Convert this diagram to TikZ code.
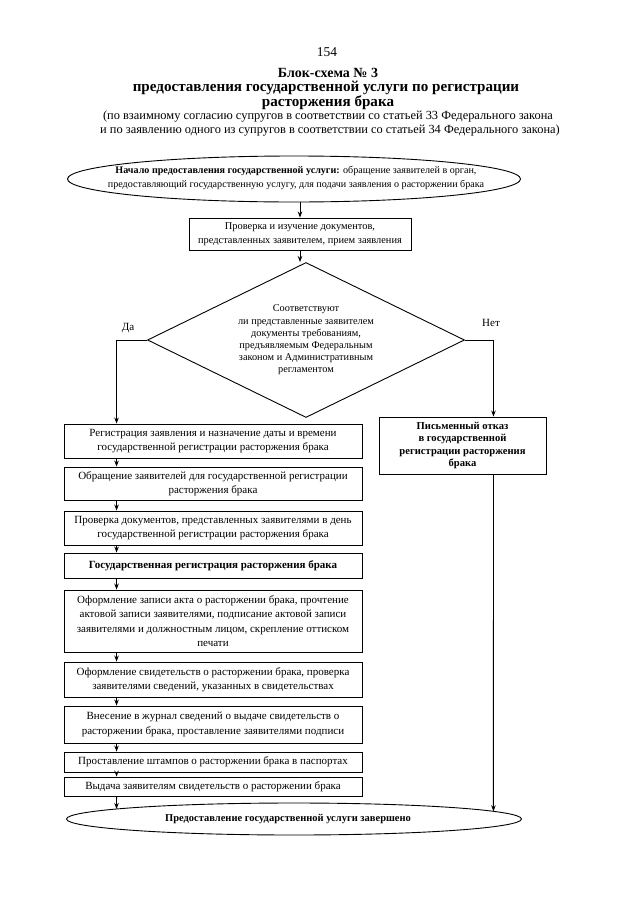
\documentclass[tikz,border=0pt]{standalone}
\usepackage{fontspec}
\setmainfont{Liberation Serif}
\usetikzlibrary{shapes.geometric,arrows.meta,calc,intersections}
\tikzset{
  box/.style={draw, line width=0.9pt, inner sep=0pt, align=center,
    font=\fontsize{11}{14.5}\selectfont},
  lbox/.style={box, minimum width=298pt},
  arr/.style={line width=0.9pt, -{Stealth[length=6pt,width=4.5pt]}},
  hdr/.style={align=center, inner sep=0pt, font=\fontsize{15.1}{15}\selectfont\bfseries},
  sub/.style={align=center, inner sep=0pt, font=\fontsize{12.4}{14}\selectfont},
}
\begin{document}
\begin{tikzpicture}[x=1pt,y=-1pt]
\useasboundingbox[fill=white] (0,0) rectangle (640,905);

% header
\node[sub, font=\fontsize{13.5}{15}\selectfont] (pg) at (327,52) {154};
\node[hdr, font=\fontsize{14}{15}\selectfont\bfseries] (t1) at (328,73) {Блок-схема № 3};
\node[hdr] (t2) at (326,88) {предоставления государственной услуги по регистрации};
\node[hdr] (t3) at (328,103) {расторжения брака};
\node[sub] (t4) at (328,117) {(по взаимному согласию супругов в соответствии со статьей 33 Федерального закона};
\node[sub] (t5) at (330,131) {и по заявлению одного из супругов в соответствии со статьей 34 Федерального закона)};

% start
\node[ellipse, draw, line width=0.9pt, inner sep=0pt, minimum width=453pt, minimum height=46pt] (start) at (294,179) {};
\node[align=center, inner sep=0pt, font=\fontsize{10.1}{14}\selectfont] (startt) at (296,178)
  {\textbf{Начало предоставления государственной услуги:} обращение заявителей в орган,\\
   предоставляющий государственную услугу, для подачи заявления о расторжении брака};

\node[box, minimum width=222pt, minimum height=32pt, font=\fontsize{10.4}{14.5}\selectfont] (b1) at (300,234)
  {Проверка и изучение документов,\\представленных заявителем, прием заявления};

\node[diamond, draw, line width=0.9pt, inner sep=0pt, minimum width=317pt, minimum height=155pt] (dia) at (306,340) {};
\node[align=center, inner sep=0pt, font=\fontsize{10.3}{12.2}\selectfont] (diat) at (306,340)
  {Соответствуют\\ли представленные заявителем\\документы требованиям,\\предъявляемым Федеральным\\законом и Административным\\регламентом};

\node[inner sep=0pt, font=\fontsize{11}{12}\selectfont] (da) at (128,328) {Да};
\node[inner sep=0pt, font=\fontsize{11}{12}\selectfont] (net) at (491,323) {Нет};

% left column
\node[lbox, minimum height=34pt] (A) at (213,441)
  {Регистрация заявления и назначение даты и времени\\государственной регистрации расторжения брака};
\node[lbox, minimum height=33pt] (B) at (213,483.5)
  {Обращение заявителей для государственной регистрации\\расторжения брака};
\node[lbox, minimum height=34pt] (C) at (213,528)
  {Проверка документов, представленных заявителями в день\\государственной регистрации расторжения брака};
\node[lbox, minimum height=25pt, font=\fontsize{11}{14.5}\selectfont\bfseries] (D) at (213,565.5)
  {Государственная регистрация расторжения брака};
\node[lbox, minimum height=62pt] (E) at (213,621)
  {Оформление записи акта о расторжении брака, прочтение\\актовой записи заявителями, подписание актовой записи\\заявителями и должностным лицом, скрепление оттиском\\печати};
\node[lbox, minimum height=35pt] (F) at (213,679.5)
  {Оформление свидетельств о расторжении брака, проверка\\заявителями сведений, указанных в свидетельствах};
\node[lbox, minimum height=37pt] (G) at (213,724.5)
  {Внесение в журнал сведений о выдаче свидетельств о\\расторжении брака, проставление заявителями подписи};
\node[lbox, minimum height=20pt] (H) at (213,762)
  {Проставление штампов о расторжении брака в паспортах};
\node[lbox, minimum height=19pt] (I) at (213,786.5)
  {Выдача заявителям свидетельств о расторжении брака};

% right box
\node[box, minimum width=167pt, minimum height=57pt, font=\fontsize{10.6}{12.3}\selectfont\bfseries] (R) at (462.5,445.5)
  {Письменный отказ\\в государственной\\регистрации расторжения\\брака};

% end
\node[ellipse, draw, line width=0.9pt, inner sep=0pt, minimum width=455pt, minimum height=32pt] (endE) at (294,819) {};
\node[inner sep=0pt, font=\fontsize{10.5}{12}\selectfont\bfseries] (endt) at (288,819)
  {Предоставление государственной услуги завершено};
\path[name path=endpath] (endE.center) ellipse [x radius=227.5pt, y radius=16pt];

% connectors
\draw[arr] (start.south -| b1.north) -- (b1.north);
\draw[arr] (b1.south) -- (b1.south |- dia.north);
\coordinate (lx) at ($(A.north west)+(53,0)$);
\coordinate (rx) at ($(R.north east)+(-53,0)$);
\draw[arr] (dia.west) -| (lx);
\draw[arr] (dia.east) -| (rx);
\foreach \u/\v in {A/B,B/C,C/D,D/E,E/F,F/G,G/H,H/I}{
  \draw[arr] ($(\u.south west)+(53,0)$) -- ($(\v.north west)+(53,0)$);
}
\coordinate (ls) at ($(I.south west)+(53,0)$);
\coordinate (rs) at ($(R.south east)+(-53,0)$);
\path[name path=lv] (ls) -- ++(0,60);
\path[name path=rv] (rs) -- ++(0,400);
\draw[arr, name intersections={of=endpath and lv, by=pl}] (ls) -- (pl);
\draw[arr, name intersections={of=endpath and rv, by=pr}] (rs) -- (pr);
\end{tikzpicture}
\end{document}
